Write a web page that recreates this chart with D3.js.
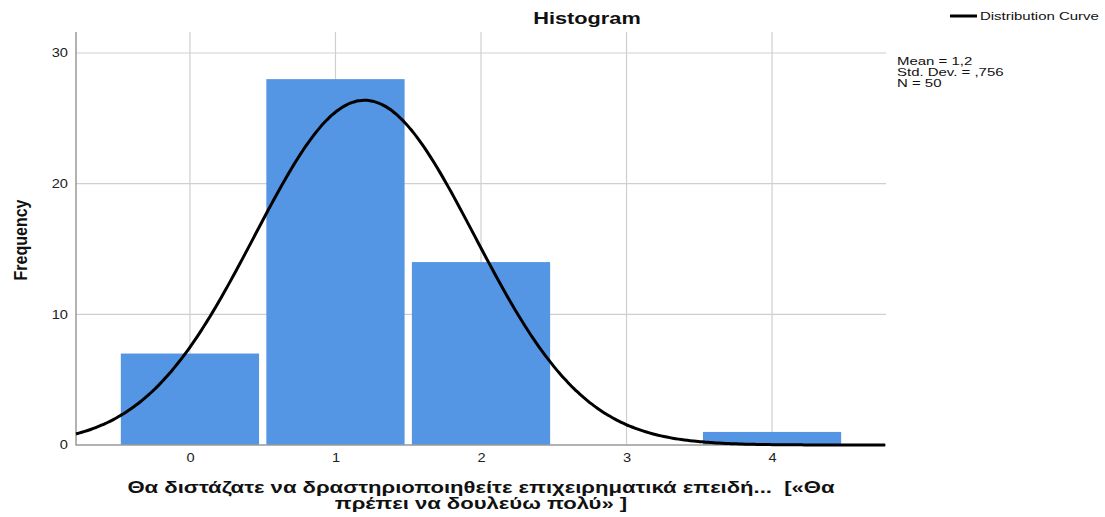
<!DOCTYPE html>
<html>
<head>
<meta charset="utf-8">
<script src="https://cdn.jsdelivr.net/npm/d3@7/dist/d3.min.js"></script>
<style>
  html, body { margin: 0; padding: 0; background: #fff; }
  svg { display: block; font-family: "Liberation Sans", Arial, sans-serif; }
  text { white-space: pre; }
</style>
</head>
<body>
<svg id="chart" width="1105" height="517"></svg>
<script>
// Histogram data: response categories and their frequencies
const categories = [0, 1, 2, 3, 4];
const frequencies = [7, 28, 14, 0, 1];
const yTicks = [0, 10, 20, 30];
const xTicks = [0, 1, 2, 3, 4];

// Summary statistics shown in the side panel
const meanValue = 1.2;
const stdDev = 0.756;
const nCount = 50;
const statLines = ["Mean = 1,2", "Std. Dev. = ,756", "N = 50"];

const xTitleLines = [
  "Θα διστάζατε να δραστηριοποιηθείτε επιχειρηματικά επειδή...  [«Θα",
  "πρέπει να δουλεύω πολύ» ]"
];

const svg = d3.select("#chart");
const plot = { left: 76, right: 886, top: 32, bottom: 445 };

const x = d3.scaleLinear().domain([-0.783, 4.783]).range([plot.left, plot.right]);
const y = d3.scaleLinear().domain([0, 30]).range([plot.bottom, 53]);

// text drawn with a horizontally widened face
function wideText(parent, px, py, sx, anchor, size, weight, str) {
  const g = parent.append("g").attr("transform", `translate(${px},${py}) scale(${sx},1)`);
  return g.append("text").attr("text-anchor", anchor).attr("font-size", size)
    .attr("font-weight", weight).attr("fill", "#111").text(str);
}

const grid = svg.append("g");
// horizontal grid lines
grid.selectAll("line.h").data(yTicks.filter(d => d > 0)).join("line")
  .attr("x1", plot.left).attr("x2", plot.right)
  .attr("y1", d => y(d)).attr("y2", d => y(d))
  .attr("stroke", "#cfcfcf").attr("stroke-width", 1.2);
// vertical grid lines
grid.selectAll("line.v").data(xTicks).join("line")
  .attr("x1", d => x(d)).attr("x2", d => x(d))
  .attr("y1", plot.top).attr("y2", plot.bottom)
  .attr("stroke", "#cfcfcf").attr("stroke-width", 1.2);

// bars
const halfW = 0.475;
svg.append("g").selectAll("rect").data(categories.map((c, i) => ({ c, v: frequencies[i] })).filter(d => d.v > 0))
  .join("rect")
  .attr("x", d => x(d.c - halfW))
  .attr("width", d => x(d.c + halfW) - x(d.c - halfW))
  .attr("y", d => y(d.v))
  .attr("height", d => y(0) - y(d.v))
  .attr("fill", "#5596e4");

// axes
const tickSx = 1.22;
const yAxis = d3.axisLeft(y).tickValues(yTicks).tickFormat(d3.format("d")).tickSize(0).tickPadding(0);
const yg = svg.append("g").attr("transform", `translate(${plot.left},0)`).call(yAxis);
yg.select(".domain").remove();
yg.selectAll("text").attr("font-size", 12).attr("fill", "#222")
  .attr("x", 0).attr("transform", `translate(-8,0) scale(${tickSx},1)`);

const xAxis = d3.axisBottom(x).tickValues(xTicks).tickFormat(d3.format("d")).tickSize(0).tickPadding(8);
const xg = svg.append("g").attr("transform", `translate(0,${plot.bottom})`).call(xAxis);
xg.select(".domain").remove();
xg.selectAll("text").attr("font-size", 12).attr("fill", "#222")
  .attr("transform", `scale(${tickSx},1)`);

svg.append("line").attr("x1", plot.left).attr("x2", plot.left)
  .attr("y1", plot.top).attr("y2", plot.bottom + 0.5)
  .attr("stroke", "#999").attr("stroke-width", 1.5);
svg.append("line").attr("x1", plot.left).attr("x2", plot.right)
  .attr("y1", plot.bottom).attr("y2", plot.bottom)
  .attr("stroke", "#999").attr("stroke-width", 1.5);

// normal distribution curve scaled to counts (bin width 1)
const pdf = v => nCount / (stdDev * Math.sqrt(2 * Math.PI)) * Math.exp(-0.5 * ((v - meanValue) / stdDev) ** 2);
const curvePts = d3.range(x.domain()[0], x.domain()[1] + 0.001, 0.02).map(v => [v, pdf(v)]);
svg.append("path")
  .datum(curvePts)
  .attr("d", d3.line().x(d => x(d[0])).y(d => y(d[1])).curve(d3.curveBasis))
  .attr("fill", "none").attr("stroke", "#000").attr("stroke-width", 3);

// title
wideText(svg, 587, 24, 1.36, "middle", 16, "bold", "Histogram");

// y-axis title
svg.append("text").attr("transform", "translate(27,240) rotate(-90) scale(1,1.15)")
  .attr("text-anchor", "middle").attr("font-size", 16).attr("fill", "#111")
  .attr("font-family", "'Liberation Sans Narrow', 'Liberation Sans', Arial, sans-serif")
  .attr("font-weight", "bold")
  .text("Frequency");

// x-axis title, centred under the plot area
const plotMid = (plot.left + plot.right) / 2;
xTitleLines.forEach((line, i) => {
  wideText(svg, plotMid, 493 + i * 16, 1.38, "middle", 16, "bold", line);
});

// legend
svg.append("line").attr("x1", 950).attr("x2", 977).attr("y1", 16).attr("y2", 16)
  .attr("stroke", "#000").attr("stroke-width", 3);
wideText(svg, 980, 20, 1.36, "start", 11, "normal", "Distribution Curve");

// statistics
statLines.forEach((line, i) => {
  wideText(svg, 897, 65 + i * 11, 1.36, "start", 11, "normal", line);
});
</script>
</body>
</html>
